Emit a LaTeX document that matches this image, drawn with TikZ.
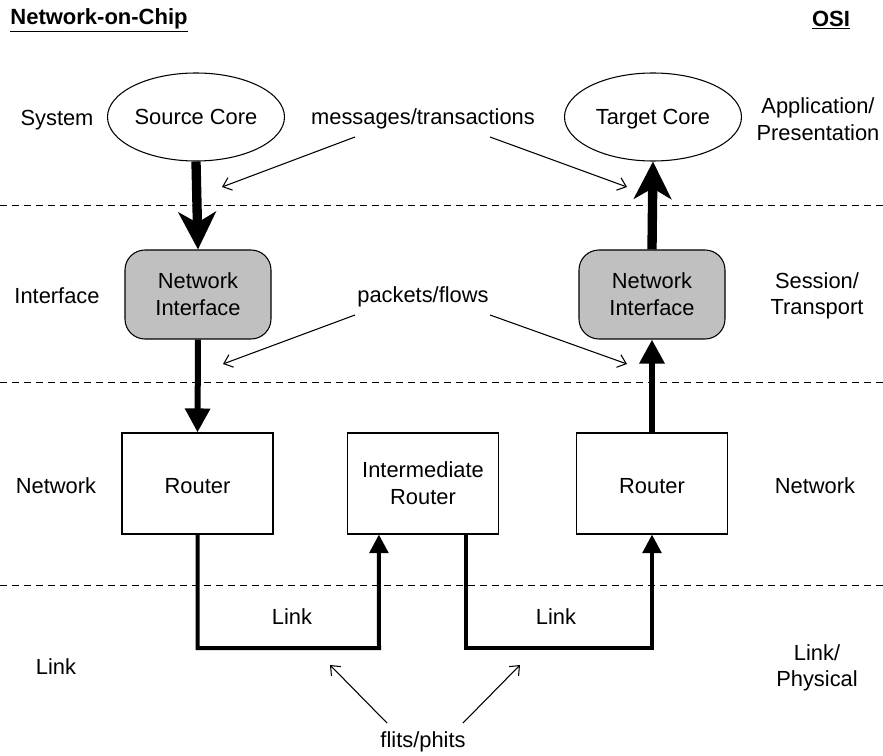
\documentclass[tikz,border=0pt]{standalone}
\usepackage{fontspec}
\setmainfont{Liberation Sans}
\usetikzlibrary{shapes.geometric,arrows.meta,calc}
\definecolor{nigray}{RGB}{192,192,192}
\newcommand{\lowertext}[1]{\raisebox{-2.2pt}[\height][0pt]{#1}}
\begin{document}
\begin{tikzpicture}[x=0.75pt,y=-0.75pt,
  every node/.style={font=\fontsize{16.4}{20}\selectfont},
  core/.style={draw, ellipse, line width=0.8pt, minimum width=132.75pt, minimum height=66pt, inner sep=0pt, text depth=0pt},
  nibox/.style={draw, rounded corners=15pt, fill=nigray, minimum width=109.5pt, minimum height=66.75pt, align=center, line width=0.8pt},
  routerbox/.style={draw, minimum width=113.25pt, minimum height=75.75pt, align=center, line width=0.8pt},
  layerline/.style={dash pattern=on 5.5pt off 3.5pt, line width=0.75pt},
  bigflow/.style={line width=7pt, -{Stealth[length=28pt,width=28pt,inset=8pt]}},
  midflow/.style={line width=4.5pt, -{Triangle[length=18pt,width=18pt]}},
  linkflow/.style={line width=3pt, -{Triangle[length=14pt,width=14pt]}},
  note/.style={line width=0.8pt, -{Straight Barb[length=6pt,width=10pt]}},
  layerlabel/.style={align=center},
  title/.style={font=\fontsize{16.5}{20}\selectfont\bfseries}
]
\useasboundingbox (0,0) rectangle (883,756);

% titles
\node[title] (tnoc) at (99,20) {\underline{Network-on-Chip}};
\node[title] (tosi) at (831,20) {\underline{OSI}};

% layer separators
\coordinate (d1l) at (0,206); \coordinate (d1r) at (883,206);
\coordinate (d2l) at (0,383); \coordinate (d2r) at (883,383);
\coordinate (d3l) at (0,585); \coordinate (d3r) at (883,585);
\draw[layerline] (d1l) -- (d1r);
\draw[layerline] (d2l) -- (d2r);
\draw[layerline] (d3l) -- (d3r);

% layer labels
\node[layerlabel] (lsys) at (57,120) {System};
\node[layerlabel] (lint) at (57,296) {Interface};
\node[layerlabel] (lnet) at (56,486) {Network};
\node[layerlabel] (llnk) at (56,667) {Link};
\node[layerlabel] (rapp) at (818,119) {Application/\\Presentation};
\node[layerlabel] (rses) at (817,296) {Session/\\Transport};
\node[layerlabel] (rnet) at (815,486) {Network};
\node[layerlabel] (rlnk) at (817,668) {Link/\\Physical};

% nodes
\node[core] (src) at (196,117) {Source Core};
\node[core] (tgt) at (653,117) {Target Core};
\node[nibox] (niL) at (198,294.5) {Network\\Interface};
\node[nibox] (niR) at (652,294.5) {Network\\Interface};
\node[routerbox] (rL) at (197.5,483.5) {\lowertext{Router}};
\node[routerbox] (rI) at (423,483.5) {Intermediate\\Router};
\node[routerbox] (rR) at (652,483.5) {\lowertext{Router}};

% main flows
\draw[bigflow] (src.south) -- (niL.north);
\draw[bigflow] (niR.north) -- (tgt.south);
\draw[midflow] (niL.south) -- (rL.north);
\draw[midflow] (rR.north) -- (niR.south);

% links
\coordinate (inA) at ($(rI.south west)!0.21!(rI.south east)$);
\coordinate (inB) at ($(rI.south west)!0.78!(rI.south east)$);
\coordinate (lkA) at (379,648);
\coordinate (lkB) at (652,648);
\draw[linkflow] (rL.south) |- (lkA) -- (inA);
\draw[linkflow] (inB) |- (lkB) -- (rR.south);
\node (linkA) at (292,617) {Link};
\node (linkB) at (556,617) {Link};

% annotations
\node (msg) at (423,119) {messages/transactions};
\coordinate (m1s) at (355,137); \coordinate (m1e) at (222,187);
\coordinate (m2s) at (490,137); \coordinate (m2e) at (627,187);
\draw[note] (m1s) -- (m1e);
\draw[note] (m2s) -- (m2e);

\node (pkt) at (423,297) {packets/flows};
\coordinate (p1s) at (355,315); \coordinate (p1e) at (223,364);
\coordinate (p2s) at (490,315); \coordinate (p2e) at (627,364);
\draw[note] (p1s) -- (p1e);
\draw[note] (p2s) -- (p2e);

\node (flt) at (423,742) {flits/phits};
\coordinate (f1s) at (387,723); \coordinate (f1e) at (330,665);
\coordinate (f2s) at (463,723); \coordinate (f2e) at (520,665);
\draw[note] (f1s) -- (f1e);
\draw[note] (f2s) -- (f2e);
\end{tikzpicture}
\end{document}
